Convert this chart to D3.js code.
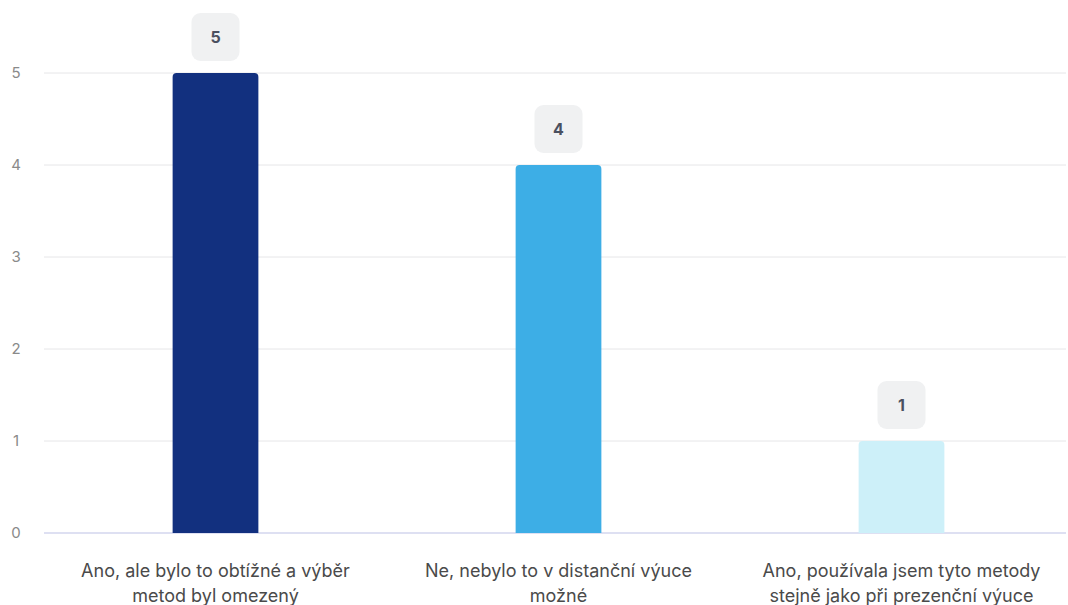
<!DOCTYPE html>
<html><head><meta charset="utf-8">
<script src="https://cdn.jsdelivr.net/npm/d3@7"></script>
<style>body{margin:0;background:#fff;}svg{display:block;font-family:Inter,"Noto Sans",sans-serif;}</style>
</head><body>
<svg id="c" width="1068" height="605"></svg>
<script>
const categories = [
  ["Ano, ale bylo to obtížné a výběr", "metod byl omezený"],
  ["Ne, nebylo to v distanční výuce", "možné"],
  ["Ano, používala jsem tyto metody", "stejně jako při prezenční výuce"]
];
const values = [5, 4, 1];
const colors = ["#12307f", "#3daee6", "#cdf0f9"];
const yTicks = [0, 1, 2, 3, 4, 5];

const svg = d3.select("#c");
const x = d3.scaleBand().domain(d3.range(values.length)).range([44, 1073]).paddingInner(0.75).paddingOuter(0.375);
const y = d3.scaleLinear().domain([0, 5]).range([533, 73]);

// grid
svg.append("g").selectAll("line").data(yTicks.filter(d => d > 0)).join("line")
  .attr("x1", 44).attr("x2", 1066).attr("y1", d => y(d)).attr("y2", d => y(d))
  .attr("stroke", "#e6e6e8").attr("stroke-width", 1);
svg.append("line").attr("x1", 44).attr("x2", 1066).attr("y1", y(0)).attr("y2", y(0))
  .attr("stroke", "#d3d6ee").attr("stroke-width", 1.5);

// y axis labels
const yAxis = d3.axisLeft(y).tickValues(yTicks).tickFormat(d3.format("d")).tickSize(0).tickPadding(0);
const ga = svg.append("g").attr("transform", "translate(16,0)").call(yAxis);
ga.select(".domain").remove();
ga.selectAll("text").attr("font-size", 15).attr("fill", "#8a8a8a").attr("text-anchor", "middle").attr("font-family", "Inter,'Noto Sans',sans-serif");

// bars with rounded top
const r = 4;
svg.append("g").selectAll("path").data(values).join("path")
  .attr("fill", (d, i) => colors[i])
  .attr("d", (d, i) => {
    const x0 = x(i), w = x.bandwidth(), y0 = y(d), y1 = y(0);
    return `M${x0},${y1}V${y0 + r}Q${x0},${y0} ${x0 + r},${y0}H${x0 + w - r}Q${x0 + w},${y0} ${x0 + w},${y0 + r}V${y1}Z`;
  });

// value labels
const lab = svg.append("g").selectAll("g").data(values).join("g")
  .attr("transform", (d, i) => `translate(${x(i) + x.bandwidth() / 2},${y(d) - 36})`);
lab.append("rect").attr("x", -24).attr("y", -24).attr("width", 48).attr("height", 48).attr("rx", 9)
  .attr("fill", "#f0f1f2");
lab.append("text").attr("text-anchor", "middle").attr("dy", "0.36em").attr("font-size", 16)
  .attr("font-weight", 700).attr("fill", "#4a5060").text(d => d);

// category labels
const cl = svg.append("g").selectAll("text").data(categories).join("text")
  .attr("text-anchor", "middle").attr("font-size", 18).attr("fill", "#4a4a4a")
  .attr("x", (d, i) => x(i) + x.bandwidth() / 2).attr("y", 577);
cl.selectAll("tspan").data(d => d).join("tspan")
  .attr("x", function () { return d3.select(this.parentNode).attr("x"); })
  .attr("dy", (d, j) => j === 0 ? 0 : 25).text(d => d);
</script>
</body></html>
